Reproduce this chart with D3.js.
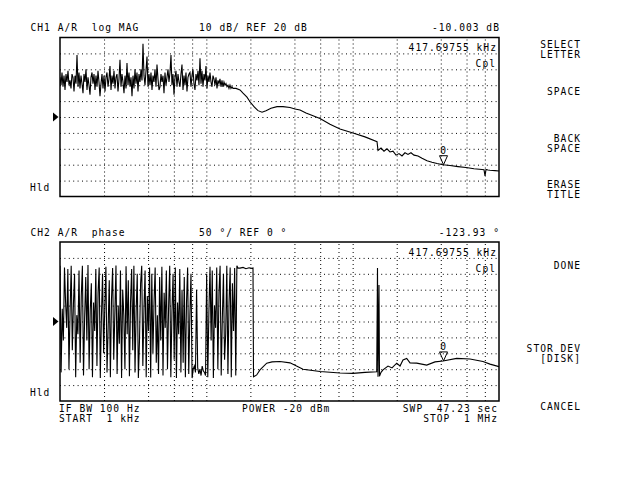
<!DOCTYPE html>
<html><head><meta charset="utf-8">
<script src="https://cdn.jsdelivr.net/npm/d3@7"></script>
<style>
html,body{margin:0;padding:0;background:#fff;}
svg{display:block;}
text{font-family:"DejaVu Sans Mono",monospace;font-size:9.6px;letter-spacing:1.02px;fill:#000;white-space:pre;}
</style></head><body>
<svg id="c" width="640" height="480"></svg>
<script>
// ---------------- data ----------------
const startKHz = 1, stopKHz = 1000;
const gridKHz = [2,4,6,8,10,20,40,60,80,100,200,400,600,800];
const magGridDB = [-20,-10,0,10,20,30,40,50,60];
const phaseGridDeg = [-200,-150,-100,-50,0,50,100,150,200];

// CH1 log MAG: noisy low-frequency part (sweep points from 1 kHz to 15.45 kHz)
const magNoiseStartKHz = 1.0, magNoiseStopKHz = 15.45;
const magNoiseDB = [
  45,40,48,39,46,37,47,42,49,40, 43,38,47,45,36,46,41,59,39,48,
  38,46,41,35,47,42,50,37,45,40, 34,45,48,41,47,37,46,39,49,42,
  33,41,47,38,46,36,45,48,39,44, 52,37,46,41,49,38,45,47,36,44,
  56,39,47,42,35,46,38,54,40,48, 39,45,33,46,38,50,41,48,36,47,
  42,50,43,66,46,40,49,58,39,47, 40,48,37,46,42,50,39,53,44,37,
  39,47,42,46,35,48,40,45,50,42, 48,59,40,47,34,45,49,39,47,42,
  39,47,53,37,46,40,48,36,45,47, 48,39,46,50,41,37,47,43,49,40,
  57,41,49,39,47,43,52,38,46,42, 48,42,39,46,44,40,45,38,43,41,
  44,39,43,39,42,40,41,39,40,38, 40,38,39,38,38];
// CH1 smooth part
const magFreqKHz = [15.95,16.99,17.81,18.96,19.88,21.17,22.55,24.02,25.57,27.67,30.40,33.42,37.31,40.36,43.67,47.99,53.58,59.82,69.99,81.91,
  100.5,121.4,146.7,149.0,156.2,163.7,171.6,179.9,188.6,197.8,207.3,217.3,227.8,238.8,250.3,262.5,279.6,297.8,322.1,348.4,
  377.1,414.3,462.6,524.6,594.9,674.7,765.4,790,802.6,815.3,841.2,868.1,939.1,1000];
const magDB = [38,37,35,32.5,29.6,26.5,24,23,24,25.5,26.5,26.5,26,25,24.4,22.5,20.8,19,15.5,12.5,
  10,7.5,4.5,-1,0.5,-1.5,0,-2,-1.5,-4,-3,-4.5,-2.5,-3.5,-2.5,-4,-4.5,-6,-7.5,-8.5,
  -9.3,-10,-10.5,-11.2,-11.8,-12.5,-13,-13.2,-17,-13,-13.3,-13.5,-13.7,-14];

// CH2 phase: wrapped noisy low-frequency part (sweep points from 1 kHz to 16.46 kHz)
const phaseNoiseStartKHz = 1.0, phaseNoiseStopKHz = 16.46;
const phaseNoiseDeg = [
  175,-160,40,-60,170,60,-20,165,-150,30, 175,-90,55,150,-175,20,-40,160,-130,80,
  175,-170,10,140,-60,178,-150,35,120,-175, 60,-30,165,-140,90,170,-178,15,150,-100,
  45,172,-160,-20,130,-175,70,168,-120,25, 176,-165,50,-70,160,-178,100,20,-150,174,
  -40,130,-172,60,165,-90,175,-160,30,150, -178,-60,120,175,-140,40,160,-175,80,-30,
  170,-176,150,-100,60,170,-130,20,-165,140, -60,172,-170,90,-20,160,-150,45,175,-175,
  30,150,-120,170,-178,60,-40,165,-160,100, -130,140,-175,60,170,-165,20,150,-178,-150,
  -140,-160,100,-145,-165,-150,-170,-140,-155,-160, -170,150,-175,30,172,-60,160,-178,50,-20,
  170,-150,90,175,-170,10,150,-120,-40,175, -165,60,170,-175,120,-30,168,-170,175,168];
// CH2 smooth part
const phaseFreqKHz = [16.99,17.81,18.66,19.57,20.51,20.84,21.01,22.09,23.26,25.86,28.10,31.87,37.31,45.78,59.82,81.91,100.5,121.4,146.0,147.8,
  149.0,151.3,152.5,156.2,161.2,174.4,185.7,200.0,210.6,220.8,234.0,246.6,273.9,320.6,365.3,414.3,513.9,633.6,777.5,868.1,1000];
const phaseDeg = [168,170,166,169,167,168,-174,-168,-152,-131,-127,-126,-130,-150,-157,-162,-163,-160,-158,168,
  -174,115,-172,-160,-152,-140,-146,-131,-140,-121,-116,-130,-131,-137,-127,-124,-116,-118,-126,-134,-142];

const markerKHz = 417.69755, markerMagDB = -10.003, markerPhaseDeg = -123.93;

// ---------------- drawing ----------------
const svg = d3.select("#c");
const PITCH = 6.8;
function txt(s, x, y){ svg.append("text").attr("x", x).attr("y", y).attr("xml:space","preserve").text(s); }
function rtxt(s, right, y){ txt(s, right - s.length*PITCH + 1, y); }

const x = d3.scaleLog().domain([startKHz, stopKHz]).range([60, 499]);

function sweep(a, b, n){ return d3.range(n).map(i => a*Math.pow(b/a, i/(n-1))); }

function panel(id, top, bottom, yDomain, yGrid, noiseA, noiseB, noiseVals, fArr, vArr){
  const y = d3.scaleLinear().domain(yDomain).range([bottom, top]);
  const g = svg.append("g");
  const gx = g.append("g").attr("transform", `translate(0,${bottom})`)
    .call(d3.axisBottom(x).tickValues(gridKHz).tickSize(-(bottom-top)).tickFormat(""));
  gx.select(".domain").remove();
  gx.selectAll("line").attr("stroke","#000").attr("stroke-dasharray","1,3");
  const gy = g.append("g").attr("transform", `translate(60,0)`)
    .call(d3.axisLeft(y).tickValues(yGrid).tickSize(-(499-60)).tickFormat(""));
  gy.select(".domain").remove();
  gy.selectAll("line").attr("stroke","#000").attr("stroke-dasharray","1,3.4");
  svg.append("clipPath").attr("id", id).append("rect")
    .attr("x", 60).attr("y", top).attr("width", 439).attr("height", bottom-top);
  const nf = sweep(noiseA, noiseB, noiseVals.length);
  const pts = nf.map((f,i)=>[f, noiseVals[i]]).concat(fArr.map((f,i)=>[f, vArr[i]]));
  g.append("path").datum(pts).attr("clip-path", `url(#${id})`)
    .attr("fill","none").attr("stroke","#000").attr("stroke-width",1.1)
    .attr("d", d3.line().x(d=>x(d[0])).y(d=>y(d[1])));
  g.append("rect").attr("x",60).attr("y",top).attr("width",439).attr("height",bottom-top)
    .attr("fill","none").attr("stroke","#000").attr("stroke-width",1.5);
  return y;
}

const y1 = panel("clip1", 37.5, 196.5, [-30, 70], magGridDB, magNoiseStartKHz, magNoiseStopKHz, magNoiseDB, magFreqKHz, magDB);
const y2 = panel("clip2", 242, 401, [-250, 250], phaseGridDeg, phaseNoiseStartKHz, phaseNoiseStopKHz, phaseNoiseDeg, phaseFreqKHz, phaseDeg);

// reference-position triangles (REF 20 dB, REF 0 deg)
[y1(20), y2(0)].forEach(ry=>{
  svg.append("path").attr("d", `M53,${ry-4.5}L58.5,${ry}L53,${ry+4.5}Z`).attr("fill","#000");
});

// markers
[[y1, markerMagDB],[y2, markerPhaseDeg]].forEach(([yy, v])=>{
  const mx = x(markerKHz), my = yy(v);
  svg.append("path").attr("d", `M${mx-4},${my-9}L${mx+4},${my-9}L${mx},${my}Z`)
    .attr("fill","none").attr("stroke","#000").attr("stroke-width",1);
  svg.append("text").attr("x", mx-3.2).attr("y", my-11).text("0");
});

// header texts
txt("CH1 A/R  log MAG", 30.5, 31);
txt("10 dB/ REF 20 dB", 199, 31);
rtxt("-10.003 dB", 499, 31);
rtxt("417.69755 kHz", 496, 51);
rtxt("Cpl", 495, 67);
txt("Hld", 30, 191);

txt("CH2 A/R  phase", 30.5, 235.5);
txt("50 °/ REF 0 °", 199, 235.5);
rtxt("-123.93 °", 499, 235.5);
rtxt("417.69755 kHz", 496, 255.5);
rtxt("Cpl", 495, 271.5);
txt("Hld", 30, 395.5);

// footer
txt("IF BW 100 Hz", 59, 411.5);
txt("START  1 kHz", 59, 421.5);
txt("POWER -20 dBm", 242, 411.5);
rtxt("SWP  47.23 sec", 497, 411.5);
rtxt("STOP  1 MHz", 497, 421.5);

// softkey menu
const menu = [["SELECT",48],["LETTER",58],["SPACE",95],["BACK",142],["SPACE",152],
  ["ERASE",188],["TITLE",198],["DONE",269],["STOR DEV",352],["[DISK]",362],["CANCEL",410]];
menu.forEach(([s,yy])=>rtxt(s, 580, yy));
</script>
</body></html>
